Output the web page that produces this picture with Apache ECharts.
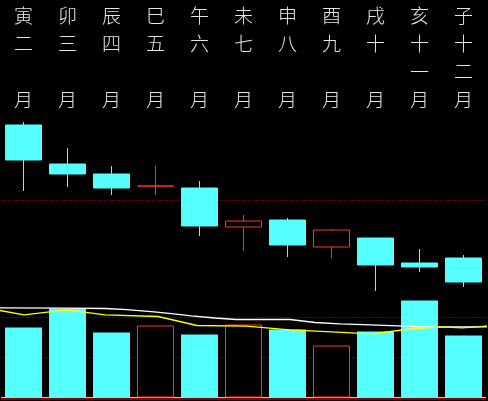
<!DOCTYPE html>
<html>
<head>
<meta charset="utf-8">
<script src="https://cdn.jsdelivr.net/npm/echarts@6/dist/echarts.min.js"></script>
<style>
html,body{margin:0;padding:0;background:#000;}
#c{width:488px;height:401px;}
</style>
</head>
<body>
<div id="c"></div>
<script>
// ---- data ----
const branches = ['寅','卯','辰','巳','午','未','申','酉','戌','亥','子'];
const monthNums = ['二','三','四','五','六','七','八','九','十','十一','十二'];
const openV  = [17.5, 13.6, 12.6, 11.4, 11.2, 7.3, 8.0, 5.3, 6.2, 3.7, 4.2];
const closeV = [14.0, 12.6, 11.2, 11.4, 7.4, 7.9, 5.5, 7.0, 3.5, 3.3, 1.8];
const lowV   = [10.9, 11.3, 10.5, 10.5, 6.4, 4.9, 4.3, 4.2, 0.9, 2.8, 1.3];
const highV  = [17.8, 15.2, 13.4, 13.4, 11.9, 8.5, 8.2, 7.1, 6.2, 5.1, 4.5];
const volumes = [70, 89, 65, 72, 63, 73, 68, 52, 66, 97, 62];
// moving-average curves: [month position, volume]
const maWhite = [[-0.534,89.7],[0.989,89.3],[1.852,89.0],[2.352,87.8],[2.966,85.7],[3.420,83.7],[3.807,81.7],[4.352,79.5],[4.830,78.0],[6.057,78.0],[6.625,75.0],[7.193,73.7],[7.875,72.7],[8.511,71.7],[9.011,70.7],[10.557,70.7]];
const maYellow = [[-0.534,87.0],[0.011,82.7],[0.989,87.7],[1.852,82.7],[3.057,81.0],[3.943,72.0],[5.057,71.3],[6.057,67.7],[7.920,63.7],[8.784,68.5],[9.511,70.7],[9.966,69.7],[10.330,70.7],[10.557,71.7]];

const UP = '#ff3232', DOWN = '#55ffff';
const categories = branches.map((b, i) => b + monthNums[i] + '月');
const candleData = openV.map((o, i) => [o, closeV[i], lowV[i], highV[i]]);
const isUp = openV.map((o, i) => closeV[i] > o || (closeV[i] === o && (i === 0 || closeV[i] >= closeV[i-1])));
const volData = volumes.map((v, i) => ({
  value: v,
  itemStyle: isUp[i] ? {color: '#000', borderColor: UP, borderWidth: 1} : {color: DOWN, borderColor: DOWN, borderWidth: 0}
}));

const dotted = {show: true, showMinLine: false, showMaxLine: false, lineStyle: {color: '#d00000', type: [1, 2], width: 1}};

const chart = echarts.init(document.getElementById('c'));
chart.setOption({
  backgroundColor: '#000',
  animation: false,
  grid: [
    {left: 1.5, right: 2.5, top: 114, bottom: 101},
    {left: 1.5, right: 2.5, top: 297.5, bottom: 3.5}
  ],
  xAxis: [
    {type: 'category', gridIndex: 0, data: categories, position: 'top',
     axisLine: {show: false}, axisTick: {show: false}, splitLine: {show: false},
     axisLabel: {show: true, interval: 0, margin: 0, color: '#e6e6e6',
       fontFamily: 'Noto Sans CJK SC', fontWeight: 300, fontSize: 19, lineHeight: 28,
       formatter: (v, i) => {
         const m = monthNums[i].split('');
         if (m.length === 1) m.push('');
         return [branches[i]].concat(m, ['月']).join('\n');
       }}},
    {type: 'category', gridIndex: 1, data: categories,
     axisLine: {show: true, lineStyle: {color: '#c8c8c8', width: 1}},
     axisTick: {show: false}, axisLabel: {show: false}, splitLine: {show: false}},
    {type: 'value', gridIndex: 1, min: -0.5, max: 10.5, position: 'bottom', offset: 1.5,
     axisLine: {show: true, lineStyle: {color: '#8b0000', width: 2}},
     axisTick: {show: false}, axisLabel: {show: false}, splitLine: {show: false}}
  ],
  yAxis: [
    {type: 'value', gridIndex: 0, min: 0, max: 18.6, interval: 10,
     axisLine: {show: false}, axisTick: {show: false}, axisLabel: {show: false}, splitLine: dotted},
    {type: 'value', gridIndex: 1, min: 0, max: 100, interval: 40,
     axisLine: {show: false}, axisTick: {show: false}, axisLabel: {show: false}, splitLine: dotted}
  ],
  series: [
    {type: 'candlestick', xAxisIndex: 0, yAxisIndex: 0, data: candleData, barWidth: '84%',
     itemStyle: {color: '#000', color0: DOWN, borderColor: UP, borderColor0: DOWN, borderColorDoji: UP, borderWidth: 1}},
    {type: 'bar', xAxisIndex: 1, yAxisIndex: 1, data: volData, barWidth: '84%'},
    {type: 'line', xAxisIndex: 2, yAxisIndex: 1, data: maWhite, symbol: 'none', clip: false,
     lineStyle: {color: '#ffffff', width: 1.3}, z: 5},
    {type: 'line', xAxisIndex: 2, yAxisIndex: 1, data: maYellow, symbol: 'none', clip: false,
     lineStyle: {color: '#ffff00', width: 1.3}, z: 5}
  ]
});
</script>
</body>
</html>
